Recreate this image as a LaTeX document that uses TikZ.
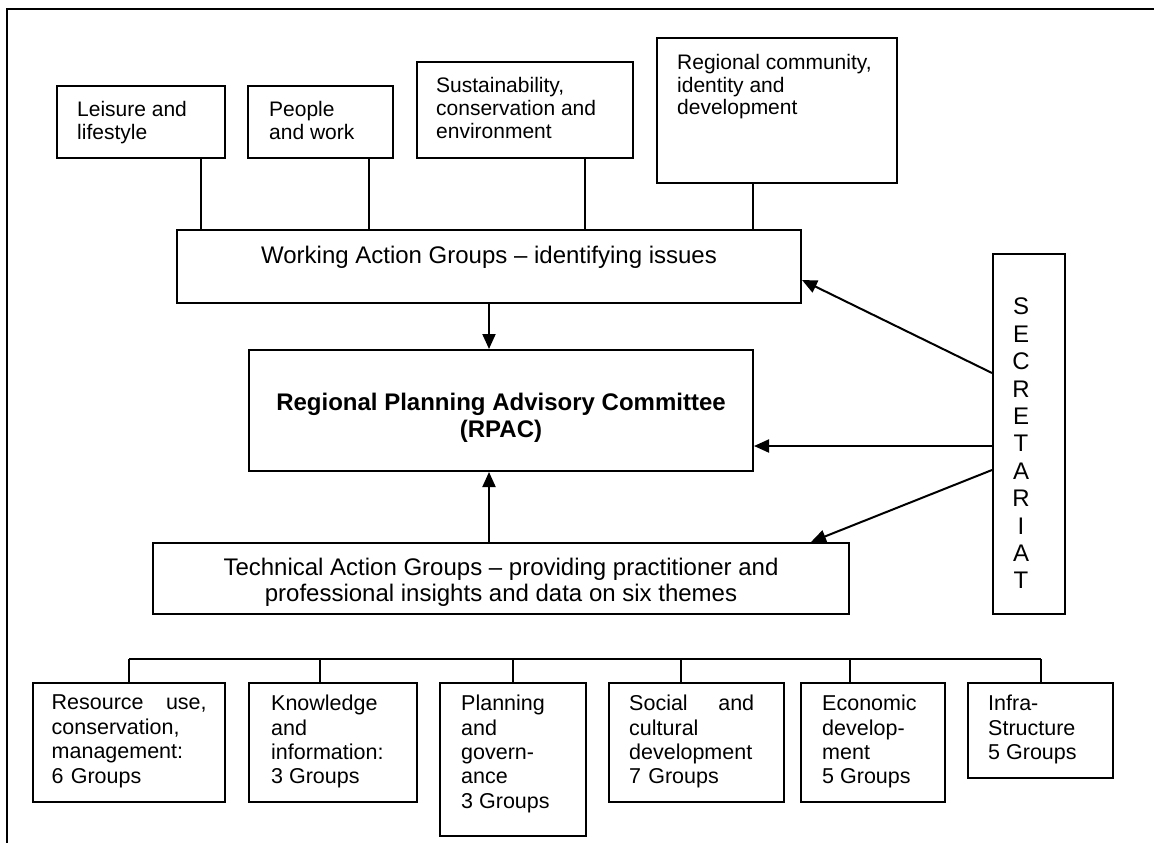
\documentclass[tikz,border=0pt]{standalone}
\usepackage{fontspec}
\setmainfont{Liberation Sans}
\usepackage{tikz}
\usetikzlibrary{positioning, arrows.meta}

\begin{document}
\begin{tikzpicture}[
    x=1pt, y=-1pt,
    >={Triangle[length=15pt, width=13pt]},
    every node/.style={inner sep=0pt},
    panel/.style={draw, line width=2pt, anchor=north west},
    topic/.style={font=\fontsize{21}{22.7}\selectfont, align=left},
    theme/.style={font=\fontsize{21.5}{24.4}\selectfont, align=left},
    banner/.style={font=\fontsize{24}{27}\selectfont, align=center},
    link/.style={line width=2pt},
    arrow/.style={->, line width=2pt},
]
\useasboundingbox (0,0) rectangle (1154,843);

% ── Page frame ──
\draw[link] (1170,9.5) -- (7,9.5) -- (7,860);

% ── Working topics ──
\node[panel, minimum width=168pt, minimum height=72pt] (leisure) at (56,85) {};
\node[topic, below right=16.5pt and 21pt of leisure.north west] {Leisure and\\lifestyle};

\node[panel, minimum width=145pt, minimum height=72pt] (people) at (247,85) {};
\node[topic, below right=16.5pt and 22pt of people.north west] {People\\and work};

\node[panel, minimum width=216pt, minimum height=96pt] (sustain) at (416,61) {};
\node[topic, below right=16.5pt and 20pt of sustain.north west] {Sustainability,\\conservation and\\environment};

\node[panel, minimum width=240pt, minimum height=145pt] (community) at (656,37) {};
\node[topic, below right=17pt and 21pt of community.north west] {Regional community,\\identity and\\development};

% ── Working Action Groups ──
\node[panel, minimum width=624pt, minimum height=73pt] (wag) at (176,229) {};
\node[banner, anchor=base] at ([yshift=-34pt]wag.north) {Working Action Groups – identifying issues};

\foreach \b/\dx in {leisure/60, people/48.5, sustain/60, community/-24}
    \draw[link] ([xshift=\dx pt]\b.south) -- ([xshift=\dx pt]\b.south |- wag.north);

% ── RPAC ──
\node[panel, minimum width=504pt, minimum height=121pt] (rpac) at (248,349) {};
\node[banner, anchor=north] at ([yshift=-44pt]rpac.north)
    {\textbf{Regional Planning Advisory Committee}\\\textbf{(RPAC)}};

% ── Technical Action Groups ──
\node[panel, minimum width=696pt, minimum height=71pt] (tag) at (152,542) {};
\begin{scope}
    \clip (tag.north west) rectangle ([yshift=10pt]tag.south east);
    \node[banner, font=\fontsize{24}{26}\selectfont, anchor=north] at ([yshift=-15.5pt]tag.north)
        {Technical Action Groups – providing practitioner and\\professional insights and data on six themes};
\end{scope}

% ── Secretariat ──
\node[panel, minimum width=72pt, minimum height=360pt] (sec) at (992,253) {};
\node[banner, font=\fontsize{24}{27.4}\selectfont, anchor=north] at ([shift={(-8,45)}]sec.north)
    {S\\E\\C\\R\\E\\T\\A\\R\\I\\A\\T};

% ── Arrows ──
\draw[arrow] (wag.south) -- (wag.south |- rpac.north);
\draw[arrow] (tag.north -| wag.south) -- (rpac.south -| wag.south);

\draw[arrow] ([yshift=-120pt]sec.north west) -- ([yshift=-51pt]wag.north east);
\draw[arrow] ([yshift=-193pt]sec.north west) -- ([yshift=-193pt]sec.north west -| rpac.east);
\draw[arrow] ([yshift=-217pt]sec.north west) -- ([xshift=-39pt]tag.north east);

% ── Six themes ──
\node[panel, minimum width=192pt, minimum height=119pt] (resource) at (32,682) {};
\node[theme, text width=155pt, below right=13pt and 19.5pt of resource.north west]
    {Resource\hfill use,\\conservation,\\management:\\6 Groups};

\node[panel, minimum width=168pt, minimum height=119pt] (knowledge) at (248,682) {};
\node[theme, below right=13pt and 23pt of knowledge.north west] {Knowledge\\and\\information:\\3 Groups};

\node[panel, minimum width=146pt, minimum height=153pt] (planning) at (439,682) {};
\node[theme, below right=13pt and 22pt of planning.north west] {Planning\\and\\govern-\\ance\\3 Groups};

\node[panel, minimum width=175pt, minimum height=119pt] (social) at (608,682) {};
\node[theme, text width=125pt, below right=13pt and 21pt of social.north west]
    {Social\hfill and\\cultural\\development\\7 Groups};

\node[panel, minimum width=144pt, minimum height=119pt] (economic) at (800,682) {};
\node[theme, below right=13pt and 22pt of economic.north west] {Economic\\develop-\\ment\\5 Groups};

\node[panel, minimum width=145pt, minimum height=95pt] (infra) at (967,682) {};
\node[theme, below right=13pt and 21pt of infra.north west] {Infra-\\Structure\\5 Groups};

\draw[link] ([yshift=23pt]resource.north) -- ([yshift=23pt]infra.north);
\foreach \b/\dx in {resource/0, knowledge/-13, planning/0, social/-15.5, economic/-23, infra/0}
    \draw[link] ([xshift=\dx pt]\b.north) -- ++(0,-23);

\end{tikzpicture}
\end{document}
